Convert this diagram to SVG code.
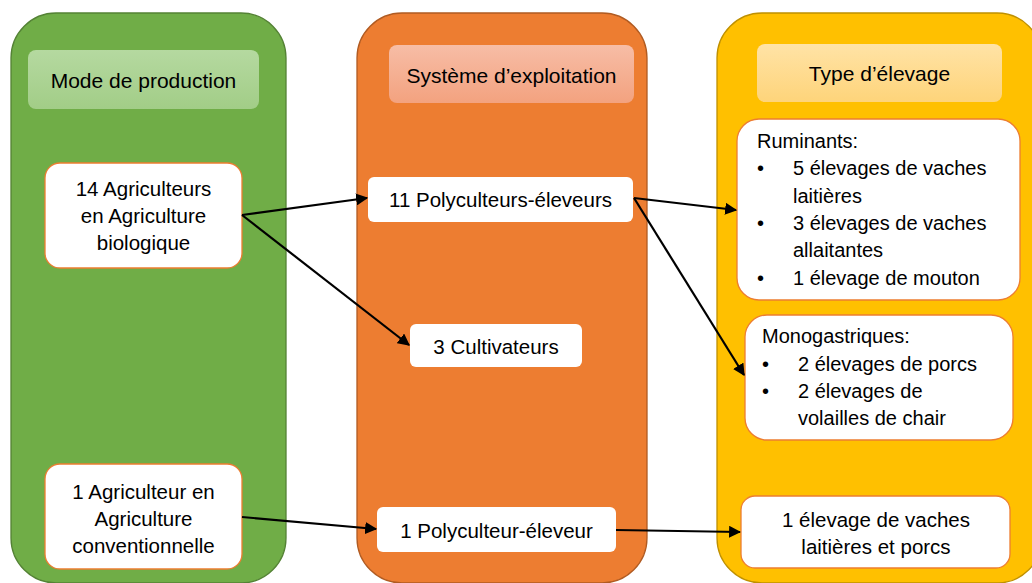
<svg xmlns="http://www.w3.org/2000/svg" width="1032" height="583" viewBox="0 0 1032 583">
<defs>
<linearGradient id="gG" x1="0" y1="0" x2="0" y2="1"><stop offset="0" stop-color="#b5d9a0"/><stop offset="1" stop-color="#a2cd87"/></linearGradient>
<linearGradient id="gO" x1="0" y1="0" x2="0" y2="1"><stop offset="0" stop-color="#f7bda6"/><stop offset="1" stop-color="#f3a27f"/></linearGradient>
<linearGradient id="gY" x1="0" y1="0" x2="0" y2="1"><stop offset="0" stop-color="#ffe3a6"/><stop offset="1" stop-color="#fed47a"/></linearGradient>
<marker id="arr" viewBox="0 0 10 10" refX="9" refY="5" markerWidth="5.5" markerHeight="5.5" orient="auto" markerUnits="strokeWidth">
<path d="M0,0 L10,5 L0,10 z" fill="#000"/>
</marker>
<style>
text{font-family:"Liberation Sans",Arial,sans-serif;font-size:20.5px;fill:#000;}
.h{font-size:21px;}
.y{font-size:20px;}
.c{text-anchor:middle;dominant-baseline:central;}
.l{dominant-baseline:central;}
.wb{fill:#fff;stroke:#ed7d31;stroke-width:1.3;}
.wo{fill:#fff;}
.conn{stroke:#000;stroke-width:2.2;fill:none;marker-end:url(#arr);}
</style>
</defs>

<g id="col-mode">
<rect x="11" y="13" width="275" height="570" rx="45" fill="#70ad47" stroke="#548235" stroke-width="1.3"/>
<rect x="28" y="50" width="231" height="59" rx="8" fill="url(#gG)"/>
<text class="c h" x="143.5" y="80">Mode de production</text>
</g>

<g id="col-systeme">
<rect x="357" y="13" width="290" height="570" rx="45" fill="#ed7d31" stroke="#b05b22" stroke-width="1.3"/>
<rect x="389" y="45" width="245" height="58" rx="8" fill="url(#gO)"/>
<text class="c h" x="511.5" y="75">Système d’exploitation</text>
</g>

<g id="col-type">
<rect x="717" y="13" width="325" height="570" rx="45" fill="#ffc000" stroke="#bf9000" stroke-width="1.3"/>
<rect x="757" y="44" width="245" height="58" rx="8" fill="url(#gY)"/>
<text class="c h" x="879.5" y="73">Type d’élevage</text>
</g>

<g id="node-bio">
<rect class="wb" x="45" y="163" width="197" height="105" rx="15"/>
<text class="c" x="143.5" y="188">14 Agriculteurs</text>
<text class="c" x="143.5" y="215">en Agriculture</text>
<text class="c" x="143.5" y="242">biologique</text>
</g>

<g id="node-conv">
<rect class="wb" x="45" y="464" width="197" height="105" rx="15"/>
<text class="c" x="143.5" y="491">1 Agriculteur en</text>
<text class="c" x="143.5" y="518">Agriculture</text>
<text class="c" x="143.5" y="545">conventionnelle</text>
</g>

<g id="node-poly11">
<rect class="wo" x="368" y="177" width="265" height="45" rx="6"/>
<text class="c" x="500.5" y="199.5">11 Polyculteurs-éleveurs</text>
</g>

<g id="node-cult">
<rect class="wo" x="410" y="324" width="172" height="43" rx="6"/>
<text class="c" x="496" y="346">3 Cultivateurs</text>
</g>

<g id="node-poly1">
<rect class="wo" x="377" y="507" width="239" height="45" rx="6"/>
<text class="c" x="496.5" y="530">1 Polyculteur-éleveur</text>
</g>

<g id="node-rum">
<rect class="wb" x="737" y="119" width="283" height="181" rx="22"/>
<text class="l y" x="757" y="141">Ruminants:</text>
<text class="l y" x="757" y="168">•</text>
<text class="l y" x="793" y="168">5 élevages de vaches</text>
<text class="l y" x="793" y="196">laitières</text>
<text class="l y" x="757" y="223">•</text>
<text class="l y" x="793" y="223">3 élevages de vaches</text>
<text class="l y" x="793" y="250">allaitantes</text>
<text class="l y" x="757" y="278">•</text>
<text class="l y" x="793" y="278">1 élevage de mouton</text>
</g>

<g id="node-mono">
<rect class="wb" x="745" y="315" width="268" height="125" rx="22"/>
<text class="l y" x="762" y="336">Monogastriques:</text>
<text class="l y" x="762" y="364">•</text>
<text class="l y" x="798" y="364">2 élevages de porcs</text>
<text class="l y" x="762" y="391">•</text>
<text class="l y" x="798" y="391">2 élevages de</text>
<text class="l y" x="798" y="418">volailles de chair</text>
</g>

<g id="node-mixte">
<rect class="wb" x="741" y="496" width="269" height="72" rx="14"/>
<text class="c" x="876" y="519">1 élevage de vaches</text>
<text class="c" x="876" y="546">laitières et porcs</text>
</g>

<g id="connectors">
<line class="conn" x1="242" y1="215" x2="367" y2="198"/>
<line class="conn" x1="242" y1="215" x2="409" y2="345"/>
<line class="conn" x1="634" y1="198" x2="736" y2="210"/>
<line class="conn" x1="634" y1="198" x2="744" y2="375"/>
<line class="conn" x1="242" y1="517" x2="376" y2="529"/>
<line class="conn" x1="616" y1="530" x2="740" y2="532"/>
</g>
</svg>
